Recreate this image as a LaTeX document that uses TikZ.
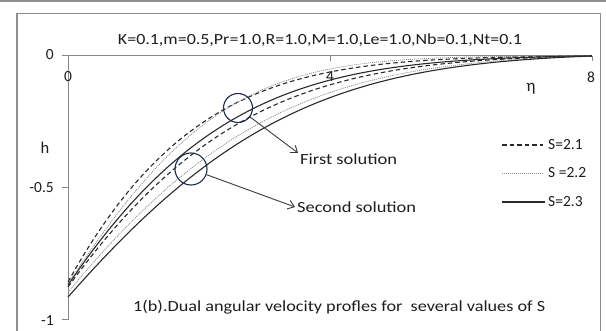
\documentclass[tikz,border=0pt]{standalone}
\usepackage{fontspec}
\setmainfont{Carlito}
\usetikzlibrary{arrows.meta}
\definecolor{axisgray}{HTML}{888888}
\definecolor{framegray}{HTML}{8E8E8E}
\definecolor{textcol}{HTML}{1E1E1E}
\definecolor{curvecol}{HTML}{2A2A2A}
\definecolor{dotcol}{HTML}{8C8C8C}
\definecolor{circcol}{HTML}{1C2D4F}
\definecolor{arrcol}{HTML}{3A3A3A}
\begin{document}
\begin{tikzpicture}[x=1pt,y=-1pt,
  % h(eta) magnitude, pinned to zero at eta = 8
  declare function={hc(\t,\z,\a,\b)=\z*(exp(-\a*\t-\b*\t*\t)-exp(-8*\a-64*\b))/(1-exp(-8*\a-64*\b));},
  axisline/.style={draw=axisgray, line width=1pt},
  lab/.style={font=\fontsize{15.5}{18}\selectfont, text=textcol, inner sep=0pt},
  dashS/.style={draw=curvecol, line width=1.1pt, dash pattern=on 4.5pt off 3pt},
  dotS/.style={draw=dotcol, line width=0.8pt, dash pattern=on 1pt off 1pt},
  solidS/.style={draw=curvecol, line width=1.1pt},
  ring/.style={circle, draw=circcol, line width=1.1pt, inner sep=0pt},
  pointer/.style={draw=arrcol, line width=0.9pt, -{Straight Barb[length=6pt,width=9pt]}}
]
\useasboundingbox (0,0) rectangle (606,331);
\clip (0,0) rectangle (606,331);
\fill[white] (0,0) rectangle (606,331);

% outer frame
\draw[draw=framegray, line width=1.5pt] (0,1.2) -- (606,1.2);
\draw[draw=framegray, line width=1.3pt] (17,340) -- (17,13.5) -- (600.5,13.5) -- (600.5,340);

% axes and ticks
\draw[axisline] (62,56) -- (592,56);
\draw[axisline] (68,56) -- (68,320);
\draw[axisline] (62,188) -- (68,188);
\draw[axisline] (62,320) -- (68,320);
\draw[axisline] (330,56) -- (330,61);
\draw[axisline] (592,56) -- (592,61);

% tick labels
\node[lab, anchor=east] (y0) at (54,55) {0};
\node[lab, anchor=east] (y05) at (54,188) {-0.5};
\node[lab, anchor=east] (y1) at (54,321) {-1};
\node[lab] (x0) at (68,77) {0};
\node[lab] (x4) at (330,77) {4};
\node[lab] (x8) at (591,77) {8};
\node[lab, font=\fontsize{16.5}{18}\selectfont] (hlab) at (45,148) {h};
\node[lab, font=\fontsize{17}{18}\selectfont] (etalab) at (531,89) {η};

% title and caption
\node[lab] (title) at (320,40) {\resizebox{404pt}{\height}{K=0.1,m=0.5,Pr=1.0,R=1.0,M=1.0,Le=1.0,Nb=0.1,Nt=0.1}};
\node[lab, anchor=west] (caption) at (133,307) {\resizebox{412pt}{\height}{1(b).Dual angular velocity profles for \ several values of S}};

% profiles: first solutions
\draw[dashS]  plot[domain=0:8, samples=120, smooth] ({68+65.5*\x},{56+264*hc(\x,0.856,0.524,0.033)});
\draw[dotS]   plot[domain=0:8, samples=120, smooth] ({68+65.5*\x},{56+264*hc(\x,0.862,0.434,0.070)});
\draw[solidS] plot[domain=0:8, samples=120, smooth] ({68+65.5*\x},{56+264*hc(\x,0.868,0.4225,0.033)});
% profiles: second solutions
\draw[dashS]  plot[domain=0:8, samples=120, smooth] ({68+65.5*\x},{56+264*hc(\x,0.875,0.389,0.030)});
\draw[dotS]   plot[domain=0:8, samples=120, smooth] ({68+65.5*\x},{56+264*hc(\x,0.895,0.333,0.030)});
\draw[solidS] plot[domain=0:8, samples=120, smooth] ({68+65.5*\x},{56+264*hc(\x,0.913,0.304,0.030)});

% solution markers
\node[ring, minimum size=29pt] (c1) at (238,108) {};
\node[ring, minimum size=32pt] (c2) at (191,169) {};
\node[lab, anchor=west] (first) at (300,159) {\resizebox{97pt}{\height}{First solution}};
\node[lab, anchor=west] (second) at (297,207) {\resizebox{119pt}{\height}{Second solution}};
\coordinate (t1) at (298,153);
\coordinate (t2) at (295,207);
\draw[pointer] (c1) -- (t1);
\draw[pointer] (c2) -- (t2);

% legend
\node[lab, anchor=west] (l1) at (548,145) {S=2.1};
\node[lab, anchor=west] (l2) at (548,173) {S =2.2};
\node[lab, anchor=west] (l3) at (548,202) {S=2.3};
\draw[dashS]  ([xshift=-46pt]l1.west) -- ([xshift=-5pt]l1.west);
\draw[dotS]   ([xshift=-46pt]l2.west) -- ([xshift=-5pt]l2.west);
\draw[solidS] ([xshift=-46pt]l3.west) -- ([xshift=-3pt]l3.west);
\end{tikzpicture}
\end{document}
